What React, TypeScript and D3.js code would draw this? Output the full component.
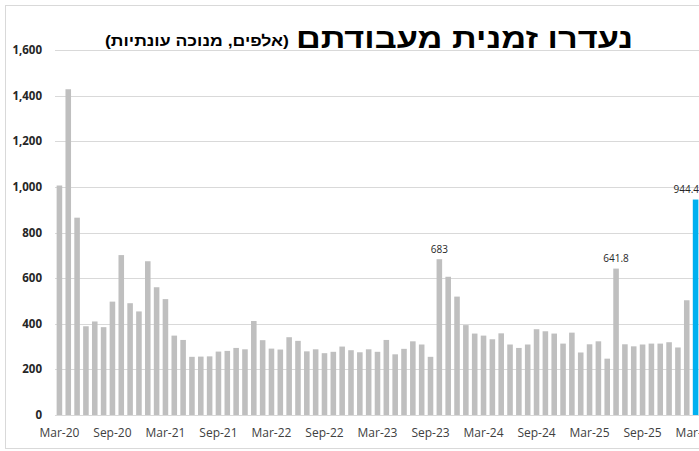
import { scaleBand, scaleLinear, format, timeMonth, timeFormat } from "d3";

const TITLE = "נעדרו זמנית מעבודתם";
const SUBTITLE = "(אלפים, מנוכה עונתיות)";

// monthly, Mar-20 .. Mar-26
const months = timeMonth
  .range(new Date(2020, 2, 1), new Date(2026, 3, 1))
  .map((d) => timeFormat("%b-%y")(d));

const values = [
  1006, 1428, 865, 389, 410, 385, 497, 701, 490, 454, 674, 560, 508, 348, 329,
  255, 256, 257, 278, 281, 294, 288, 412, 328, 291, 287, 341, 325, 279, 288,
  271, 277, 300, 284, 275, 288, 277, 329, 266, 290, 323, 309, 255, 683, 606,
  519, 394, 357, 348, 332, 358, 309, 294, 309, 376, 367, 357, 313, 361, 274,
  310, 323, 247, 641.8, 310, 301, 309, 313, 313, 319, 296, 503, 944.4,
];

const xTickLabels = [
  "Mar-20", "Sep-20", "Mar-21", "Sep-21", "Mar-22", "Sep-22", "Mar-23",
  "Sep-23", "Mar-24", "Sep-24", "Mar-25", "Sep-25", "Mar-26",
];
const yTicks = [0, 200, 400, 600, 800, 1000, 1200, 1400, 1600];
const labelled = ["Oct-23", "Jun-25", "Mar-26"];
const highlight = "Mar-26";

const W = 699;
const H = 451;
const plot = { left: 55, right: 700, top: 50, bottom: 415 };

export default function App() {
  const x = scaleBand<string>()
    .domain(months)
    .range([plot.left, plot.right])
    .paddingInner(0.37)
    .paddingOuter(0.185);
  const y = scaleLinear().domain([0, 1600]).range([plot.bottom, plot.top]);
  const bw = x.bandwidth();
  const fmt = format(",");

  return (
    <svg
      width={W}
      height={H}
      style={{ position: "absolute", left: 0, top: 0, background: "#fff" }}
    >
      {/* chart border */}
      <rect x={5.5} y={5.5} width={W + 10} height={443} fill="#fff" stroke="#D9D9D9" />

      {/* gridlines + y labels */}
      {yTicks.map((t) => (
        <g key={t}>
          <line
            x1={plot.left}
            x2={W + 5}
            y1={Math.round(y(t)) + 0.5}
            y2={Math.round(y(t)) + 0.5}
            stroke="#D9D9D9"
          />
          <text
            x={42}
            y={y(t) + 4}
            textAnchor="end"
            fontFamily="'Open Sans', sans-serif"
            fontWeight="bold"
            fontSize={11.5}
            fill="#262626"
          >
            {fmt(t)}
          </text>
        </g>
      ))}

      {/* bars */}
      {months.map((m, i) => (
        <rect
          key={m}
          x={x(m)}
          y={y(values[i])}
          width={bw}
          height={y(0) - y(values[i])}
          fill={m === highlight ? "#00B0F0" : "#BFBFBF"}
        />
      ))}

      {/* data labels */}
      {months.map((m, i) => {
        if (!labelled.includes(m)) return null;
        const cx = (x(m) as number) + bw / 2;
        const clamp = cx + 13 > W;
        return (
          <text
            key={m}
            x={clamp ? W : cx}
            y={y(values[i]) - 6.5}
            textAnchor={clamp ? "end" : "middle"}
            fontFamily="'Open Sans', sans-serif"
            fontSize={10}
            fill="#262626"
          >
            {values[i]}
          </text>
        );
      })}

      {/* x labels */}
      {xTickLabels.map((l) => (
        <text
          key={l}
          x={(x(l) as number) + bw / 2}
          y={437}
          textAnchor="middle"
          fontFamily="'Open Sans', sans-serif"
          fontSize={12}
          fill="#404040"
        >
          {l}
        </text>
      ))}

      {/* title */}
      <text
        x={633}
        y={48}
        textAnchor="end"
        fontFamily="'Liberation Sans', Arial, 'DejaVu Sans', sans-serif"
        fontWeight="bold"
        fontSize={28}
        textLength={337}
        lengthAdjust="spacingAndGlyphs"
        fill="#000"
      >
        {TITLE}
      </text>
      <text
        x={289}
        y={46}
        textAnchor="end"
        fontFamily="'Liberation Sans', Arial, 'DejaVu Sans', sans-serif"
        fontWeight="bold"
        fontSize={15}
        textLength={184}
        lengthAdjust="spacingAndGlyphs"
        fill="#000"
      >
        {SUBTITLE}
      </text>
    </svg>
  );
}
